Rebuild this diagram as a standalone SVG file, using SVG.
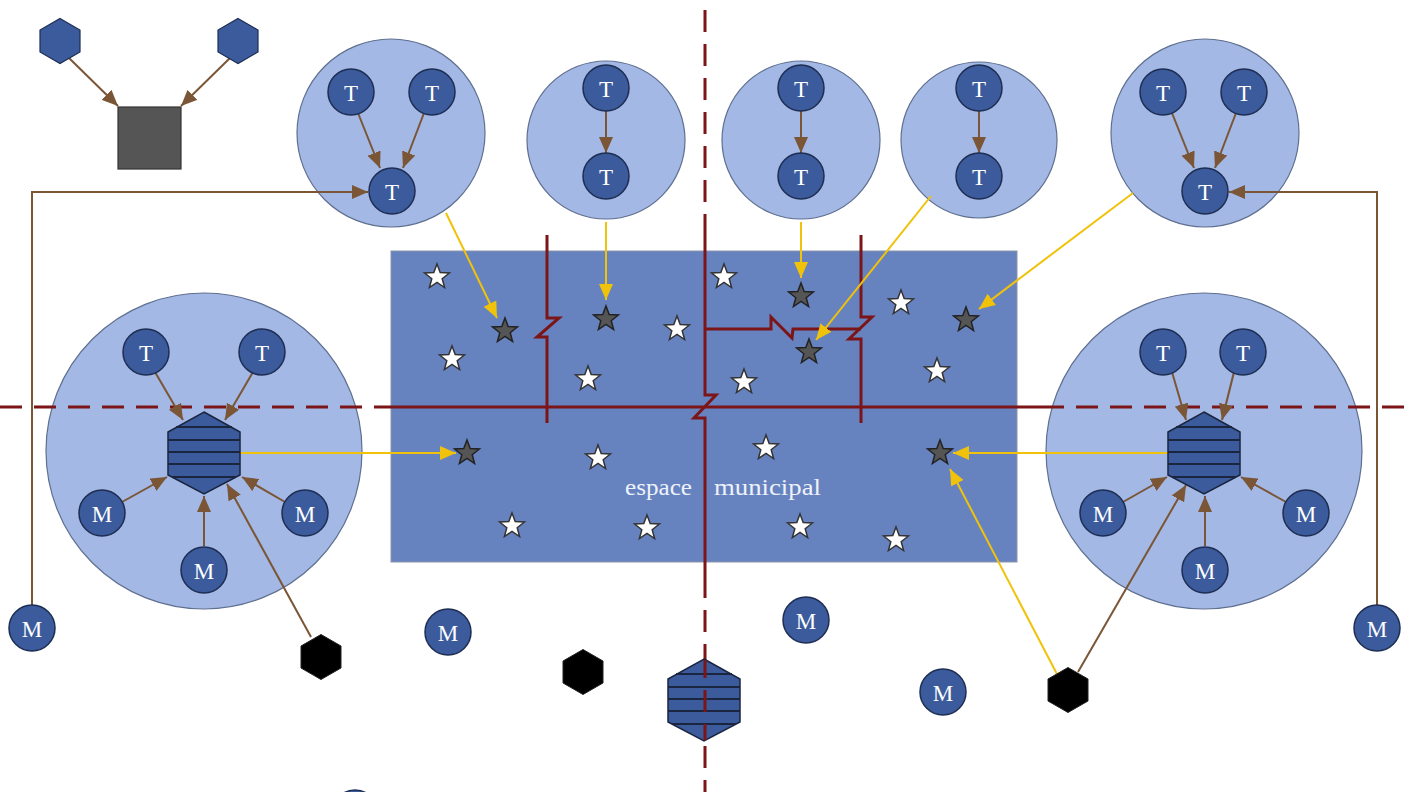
<svg xmlns="http://www.w3.org/2000/svg" width="1412" height="792" viewBox="0 0 1412 792">
<style>
.big{fill:#a3b8e4;stroke:#5f6f8f;stroke-width:1.2}
.node{fill:#3b5b9c;stroke:#1e2d52;stroke-width:1.5}
.lbl{font-family:"Liberation Serif","Times New Roman",serif;font-size:23px;fill:#ffffff;text-anchor:middle;dominant-baseline:central}
.br{stroke:#7a5536;stroke-width:2;fill:none;marker-end:url(#ab)}
.ye{stroke:#f0c20a;stroke-width:2;fill:none;marker-end:url(#ay)}
.dash{stroke:#7b1518;stroke-width:3;stroke-dasharray:22 12;fill:none}
.wall{stroke:#7b1518;stroke-width:3;fill:none;stroke-linejoin:miter}
.ws{fill:#ffffff;stroke:#333;stroke-width:1.5}
.ds{fill:#555;stroke:#222;stroke-width:1.5}
.blk{fill:#000;stroke:#222;stroke-width:1}
.hx{fill:#3b5b9c;stroke:#1e2d52;stroke-width:1.2}
.hs{fill:#3b5b9c;stroke:#1a2540;stroke-width:1.5}
.st{stroke:#1a2540;stroke-width:2}
</style>
<defs>
<marker id="ab" markerUnits="userSpaceOnUse" markerWidth="16" markerHeight="14" refX="16" refY="7" orient="auto"><path d="M0,0 L16,7 L0,14 z" fill="#7a5536"/></marker>
<marker id="ay" markerUnits="userSpaceOnUse" markerWidth="16" markerHeight="14" refX="16" refY="7" orient="auto"><path d="M0,0 L16,7 L0,14 z" fill="#f0c20a"/></marker>
<path id="star" d="M0,-13 L3.2,-4.4 L12.4,-4 L5.2,1.7 L7.6,10.5 L0,5.4 L-7.6,10.5 L-5.2,1.7 L-12.4,-4 L-3.2,-4.4 Z"/>
<path id="hex" d="M0,-22.5 L20,-11 L20,11 L0,22.5 L-20,11 L-20,-11 Z"/>
<g id="shex">
<path class="hs" d="M0,-41 L36,-21 L36,22 L0,41 L-36,22 L-36,-21 Z"/>
<line class="st" x1="-28" y1="-26" x2="28" y2="-26"/>
<line class="st" x1="-36" y1="-13" x2="36" y2="-13"/>
<line class="st" x1="-36" y1="-1" x2="36" y2="-1"/>
<line class="st" x1="-36" y1="11" x2="36" y2="11"/>
<line class="st" x1="-32" y1="24" x2="32" y2="24"/>
</g>
</defs>
<rect width="1412" height="792" fill="#ffffff"/>

<g id="espace-municipal">
<rect x="391" y="251" width="626" height="311" fill="#6783bf" stroke="#8a94a8" stroke-width="1"/>
<text x="625" y="495" font-family="Liberation Serif, serif" font-size="24" fill="#eef2fa" textLength="67" lengthAdjust="spacingAndGlyphs">espace</text>
<text x="714" y="495" font-family="Liberation Serif, serif" font-size="24" fill="#eef2fa" textLength="107" lengthAdjust="spacingAndGlyphs">municipal</text>
</g>

<g id="stars">
<use href="#star" class="ws" x="437" y="277"/>
<use href="#star" class="ws" x="452" y="359"/>
<use href="#star" class="ws" x="588" y="379"/>
<use href="#star" class="ws" x="677" y="329"/>
<use href="#star" class="ws" x="724" y="277"/>
<use href="#star" class="ws" x="744" y="382"/>
<use href="#star" class="ws" x="901" y="303"/>
<use href="#star" class="ws" x="937" y="371"/>
<use href="#star" class="ws" x="598" y="458"/>
<use href="#star" class="ws" x="766" y="448"/>
<use href="#star" class="ws" x="512" y="526"/>
<use href="#star" class="ws" x="647" y="528"/>
<use href="#star" class="ws" x="800" y="527"/>
<use href="#star" class="ws" x="896" y="540"/>
<use href="#star" class="ds" x="505" y="331"/>
<use href="#star" class="ds" x="606" y="319"/>
<use href="#star" class="ds" x="801" y="296"/>
<use href="#star" class="ds" x="809" y="352"/>
<use href="#star" class="ds" x="966" y="320"/>
<use href="#star" class="ds" x="467" y="453"/>
<use href="#star" class="ds" x="940" y="453"/>
</g>

<g id="group-left">
<circle class="big" cx="204" cy="451" r="158"/>
</g>
<g id="group-right">
<circle class="big" cx="1204" cy="451" r="158"/>
</g>
<g id="bubble-a"><circle class="big" cx="391" cy="133" r="94"/></g>
<g id="bubble-b"><circle class="big" cx="606" cy="140" r="79"/></g>
<g id="bubble-c"><circle class="big" cx="801" cy="140" r="79"/></g>
<g id="bubble-d"><circle class="big" cx="979" cy="140" r="78"/></g>
<g id="bubble-e"><circle class="big" cx="1205" cy="133" r="94"/></g>

<g id="borders">
<line class="dash" x1="0" y1="407" x2="380" y2="407"/>
<line class="dash" x1="1042" y1="407" x2="1412" y2="407"/>
<line class="dash" x1="705" y1="10" x2="705" y2="236"/>
<line class="dash" x1="705" y1="576" x2="705" y2="792"/>
<line class="wall" x1="380" y1="407" x2="1042" y2="407"/>
<polyline class="wall" points="547,235 547,318 559,318 537,337 547,337 547,423"/>
<polyline class="wall" points="705,236 705,395 716,395 694,418 705,418 705,576"/>
<polyline class="wall" points="705,329 771,329 771,317 792,338 793,329 861,329"/>
<polyline class="wall" points="861,235 861,317 872,317 849,339 861,339 861,423"/>
</g>

<g id="connectors">
<line class="br" x1="69" y1="58" x2="118" y2="106"/>
<line class="br" x1="230" y1="58" x2="181" y2="106"/>
<line class="br" x1="358" y1="113" x2="380" y2="168"/>
<line class="br" x1="424" y1="113" x2="403" y2="168"/>
<polyline class="br" points="32,605 32,192 368,192"/>
<line class="br" x1="606" y1="111" x2="606" y2="153"/>
<line class="br" x1="801" y1="111" x2="801" y2="153"/>
<line class="br" x1="979" y1="111" x2="979" y2="153"/>
<line class="br" x1="1172" y1="113" x2="1194" y2="168"/>
<line class="br" x1="1236" y1="113" x2="1215" y2="168"/>
<polyline class="br" points="1377,605 1377,192 1229,192"/>
<line class="br" x1="155" y1="372" x2="183" y2="420"/>
<line class="br" x1="253" y1="372" x2="225" y2="420"/>
<line class="br" x1="122" y1="502" x2="167" y2="477"/>
<line class="br" x1="204" y1="546" x2="204" y2="496"/>
<line class="br" x1="285" y1="502" x2="242" y2="477"/>
<line class="br" x1="311" y1="637" x2="227" y2="484"/>
<line class="br" x1="1172" y1="372" x2="1186" y2="420"/>
<line class="br" x1="1234" y1="372" x2="1222" y2="420"/>
<line class="br" x1="1123" y1="502" x2="1167" y2="477"/>
<line class="br" x1="1205" y1="546" x2="1205" y2="496"/>
<line class="br" x1="1286" y1="502" x2="1241" y2="477"/>
<line class="br" x1="1078" y1="672" x2="1186" y2="485"/>
<line class="ye" x1="446" y1="213" x2="497" y2="318"/>
<line class="ye" x1="606" y1="222" x2="606" y2="300"/>
<line class="ye" x1="801" y1="222" x2="801" y2="278"/>
<line class="ye" x1="931" y1="196" x2="816" y2="340"/>
<line class="ye" x1="1133" y1="193" x2="979" y2="309"/>
<line class="ye" x1="240" y1="453" x2="456" y2="453"/>
<line class="ye" x1="1168" y1="453" x2="953" y2="453"/>
<line class="ye" x1="1058" y1="676" x2="950" y2="469"/>
</g>

<g id="hex-tl1"><use href="#hex" class="hx" x="60" y="41"/></g>
<g id="hex-tl2"><use href="#hex" class="hx" x="238" y="41"/></g>
<g id="square"><rect x="118" y="107" width="63" height="62" fill="#555555" stroke="#333" stroke-width="1.2"/></g>

<g id="t-a1"><circle class="node" cx="351" cy="92" r="23"/><text class="lbl" x="351" y="93">T</text></g>
<g id="t-a2"><circle class="node" cx="432" cy="92" r="23"/><text class="lbl" x="432" y="93">T</text></g>
<g id="t-a3"><circle class="node" cx="392" cy="191" r="23"/><text class="lbl" x="392" y="192">T</text></g>
<g id="t-b1"><circle class="node" cx="606" cy="88" r="23"/><text class="lbl" x="606" y="89">T</text></g>
<g id="t-b2"><circle class="node" cx="606" cy="176" r="23"/><text class="lbl" x="606" y="177">T</text></g>
<g id="t-c1"><circle class="node" cx="801" cy="88" r="23"/><text class="lbl" x="801" y="89">T</text></g>
<g id="t-c2"><circle class="node" cx="801" cy="176" r="23"/><text class="lbl" x="801" y="177">T</text></g>
<g id="t-d1"><circle class="node" cx="979" cy="88" r="23"/><text class="lbl" x="979" y="89">T</text></g>
<g id="t-d2"><circle class="node" cx="979" cy="176" r="23"/><text class="lbl" x="979" y="177">T</text></g>
<g id="t-e1"><circle class="node" cx="1163" cy="92" r="23"/><text class="lbl" x="1163" y="93">T</text></g>
<g id="t-e2"><circle class="node" cx="1244" cy="92" r="23"/><text class="lbl" x="1244" y="93">T</text></g>
<g id="t-e3"><circle class="node" cx="1205" cy="191" r="23"/><text class="lbl" x="1205" y="192">T</text></g>

<g id="t-l1"><circle class="node" cx="146" cy="352" r="23"/><text class="lbl" x="146" y="353">T</text></g>
<g id="t-l2"><circle class="node" cx="262" cy="352" r="23"/><text class="lbl" x="262" y="353">T</text></g>
<g id="hex-left"><use href="#shex" x="204" y="453"/></g>
<g id="m-l1"><circle class="node" cx="102" cy="513" r="23"/><text class="lbl" x="102" y="514">M</text></g>
<g id="m-l2"><circle class="node" cx="204" cy="570" r="23"/><text class="lbl" x="204" y="571">M</text></g>
<g id="m-l3"><circle class="node" cx="305" cy="513" r="23"/><text class="lbl" x="305" y="514">M</text></g>

<g id="t-r1"><circle class="node" cx="1163" cy="352" r="23"/><text class="lbl" x="1163" y="353">T</text></g>
<g id="t-r2"><circle class="node" cx="1243" cy="352" r="23"/><text class="lbl" x="1243" y="353">T</text></g>
<g id="hex-right"><use href="#shex" x="1204" y="453"/></g>
<g id="m-r1"><circle class="node" cx="1103" cy="513" r="23"/><text class="lbl" x="1103" y="514">M</text></g>
<g id="m-r2"><circle class="node" cx="1205" cy="570" r="23"/><text class="lbl" x="1205" y="571">M</text></g>
<g id="m-r3"><circle class="node" cx="1306" cy="513" r="23"/><text class="lbl" x="1306" y="514">M</text></g>

<g id="m-far-left"><circle class="node" cx="32" cy="628" r="23"/><text class="lbl" x="32" y="629">M</text></g>
<g id="m-far-right"><circle class="node" cx="1377" cy="628" r="23"/><text class="lbl" x="1377" y="629">M</text></g>
<g id="m-b1"><circle class="node" cx="448" cy="632" r="23"/><text class="lbl" x="448" y="633">M</text></g>
<g id="m-b2"><circle class="node" cx="806" cy="620" r="23"/><text class="lbl" x="806" y="621">M</text></g>
<g id="m-b3"><circle class="node" cx="943" cy="692" r="23"/><text class="lbl" x="943" y="693">M</text></g>
<g id="m-cut"><circle class="node" cx="355" cy="813" r="23"/></g>

<g id="blk-1"><use href="#hex" class="blk" x="321" y="657"/></g>
<g id="blk-2"><use href="#hex" class="blk" x="583" y="672"/></g>
<g id="blk-3"><use href="#hex" class="blk" x="1068" y="690"/></g>
<g id="hex-bottom"><use href="#shex" x="704" y="700"/></g>
<line class="dash" x1="705" y1="660" x2="705" y2="740" stroke-dashoffset="4"/>
</svg>
